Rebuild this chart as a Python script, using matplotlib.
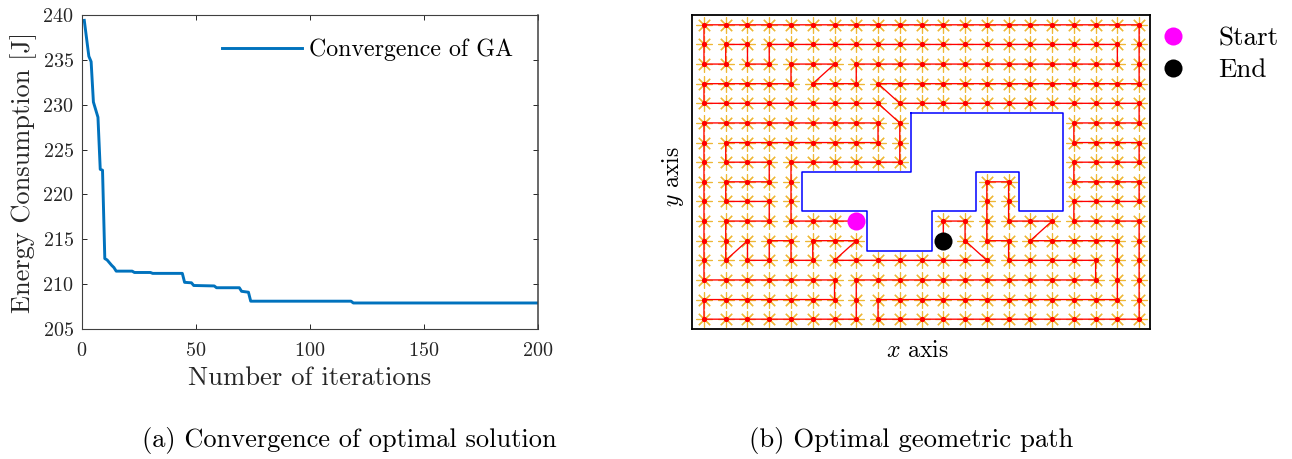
#!/usr/bin/env python3
"""
Convergence of the GA and the optimal geometric path
"""

import numpy as np
import matplotlib
matplotlib.use('Agg')
import matplotlib.pyplot as plt
from matplotlib.path import Path

plt.rcParams['font.family'] = ['cmr10', 'DejaVu Sans']
plt.rcParams['mathtext.fontset'] = 'cm'
plt.rcParams['axes.formatter.use_mathtext'] = True

# Convergence curve (corners of the stepped curve)
iterations = [1, 3, 4, 5, 7, 8, 9, 10, 11, 13, 14, 15, 22, 23, 30, 31, 44, 45, 48, 49,
              58, 59, 69, 70, 73, 74, 118, 119, 200]
energy = [239.4, 235.4, 234.8, 230.3, 228.6, 222.8, 222.7, 212.85, 212.7, 212.1, 211.85,
          211.45, 211.45, 211.3, 211.3, 211.2, 211.2, 210.2, 210.15, 209.85,
          209.8, 209.6, 209.6, 209.2, 209.1, 208.1, 208.1, 207.9, 207.9]
x_ticks = [0, 50, 100, 150, 200]
y_ticks = [205, 210, 215, 220, 225, 230, 235, 240]

# Map: grid of waypoints, column 0 on the left, row 0 on top
n_cols = 21
n_rows = 16
obstacle_cols = [9.5, 16.5, 16.5, 14.5, 14.5, 12.5, 12.5, 10.5, 10.5, 7.5, 7.5, 4.5, 4.5, 9.5, 9.5]
obstacle_rows = [4.5, 4.5, 9.5, 9.5, 7.5, 7.5, 9.5, 9.5, 11.5, 11.5, 9.5, 9.5, 7.5, 7.5, 4.5]
path_cols = [7, 4, 4, 9, 9, 8, 0, 0, 4, 4, 6, 5, 7, 7, 19, 19, 3, 3, 2, 2, 1, 1, 0, 0, 20, 20, 8, 9,
             20, 20, 17, 17, 20, 20, 17, 17, 20, 20, 17, 17, 20, 20, 8, 8, 19, 19, 15, 16, 14, 14,
             13, 13, 14, 14, 18, 18, 7, 7, 0, 0, 6, 6, 0, 0, 8, 8, 1, 1, 3, 3, 1, 1, 3, 3, 1, 1,
             2, 2, 3, 3, 4, 4, 5, 5, 7, 6, 13, 12, 12, 11, 11]
path_rows = [10, 10, 7, 7, 5, 4, 4, 3, 3, 2, 2, 3, 3, 2, 2, 1, 1, 2, 2, 1, 1, 2, 2, 0, 0, 3, 3, 4,
             4, 5, 5, 6, 6, 7, 7, 8, 8, 9, 9, 10, 10, 15, 15, 14, 14, 11, 11, 10, 10, 8,
             8, 11, 11, 12, 12, 13, 13, 15, 15, 14, 14, 13, 13, 5, 5, 6, 6, 7, 7, 8, 8, 9, 9, 10, 10, 12,
             11, 12, 12, 11, 11, 12, 12, 11, 11, 12, 12, 11, 10, 10, 11]
start_cell = (7, 10)
end_cell = (11, 11)

W, H = 1292, 459
fig = plt.figure(figsize=(W / 100, H / 100), dpi=100)


def px_axes(left, top, right, bottom):
    return fig.add_axes([left / W, 1 - bottom / H, (right - left) / W, (bottom - top) / H])


# Left panel
ax1 = px_axes(82, 15, 538, 329)
ax1.plot(iterations, energy, color='#0072BD', lw=2.1, label='Convergence of GA')
ax1.set_xlim(0, 200)
ax1.set_ylim(205, 240)
ax1.set_xticks(x_ticks)
ax1.set_yticks(y_ticks)
ax1.tick_params(direction='in', length=3.6, width=0.7, top=True, right=True,
                labelsize=14.5, colors='#262626', pad=6)
ax1.tick_params(axis='x', pad=9.5)
for side in ax1.spines.values():
    side.set_linewidth(0.8)
    side.set_color('#404040')
ax1.spines['right'].set_linewidth(1.1)
ax1.set_xlabel('Number of iterations', fontsize=19.2, color='#262626', labelpad=4.5)
ax1.set_ylabel('Energy Consumption [J]', fontsize=19, color='#262626', labelpad=4)
ax1.legend(loc='upper left', bbox_to_anchor=(0.307, 0.924), frameon=False, fontsize=17.2,
           handlelength=3.35, handletextpad=0.3, borderpad=0, borderaxespad=0)

# Right panel
ax2 = px_axes(692, 15, 1150, 329)
grid_c, grid_r = np.meshgrid(np.arange(n_cols), np.arange(n_rows))
obstacle = Path(np.column_stack([obstacle_cols, obstacle_rows]))
free = ~obstacle.contains_points(np.column_stack([grid_c.ravel(), grid_r.ravel()]))
free_c = grid_c.ravel()[free]
free_r = grid_r.ravel()[free]

ax2.plot(free_c, free_r, ls='none', marker=(8, 2, 0), ms=11.5, mew=0.85, color='#EDB120', alpha=0.9)
ax2.plot(path_cols, path_rows, color='#FF0000', lw=0.95)
ax2.plot(free_c, free_r, ls='none', marker='o', ms=3.8, color='#FF0000', mew=0)
ax2.plot(obstacle_cols, obstacle_rows, color='#0000FF', lw=1.1)
ax2.plot(start_cell[0], start_cell[1], ls='none', marker='o', ms=13, mew=0, color='#FF00FF', label='Start')
ax2.plot(end_cell[0], end_cell[1], ls='none', marker='o', ms=13, mew=0, color='black', label='End')
ax2.set_xlim(-0.55, 20.5)
ax2.set_ylim(15.5, -0.5)
ax2.set_xticks([])
ax2.set_yticks([])
for side in ax2.spines.values():
    side.set_linewidth(1.3)
ax2.set_xlabel(r'$x$ axis', fontsize=17.1, labelpad=8, x=0.492)
ax2.set_ylabel(r'$y$ axis', fontsize=17.1, labelpad=4.5, y=0.487)
handles, labels = ax2.get_legend_handles_labels()
ax2.legend(handles[-2:], labels[-2:], loc='upper left', bbox_to_anchor=(1.021, 0.964), frameon=False,
           fontsize=19.5, handlelength=1, handletextpad=1.16, labelspacing=0.3, borderpad=0, borderaxespad=0)

# Captions
fig.text(349.5 / W, 1 - 440 / H, '(a) Convergence of optimal solution', ha='center', va='center', fontsize=19)
fig.text(911.5 / W, 1 - 440 / H, '(b) Optimal geometric path', ha='center', va='center', fontsize=19.2)

plt.savefig('out.png', dpi=100)
